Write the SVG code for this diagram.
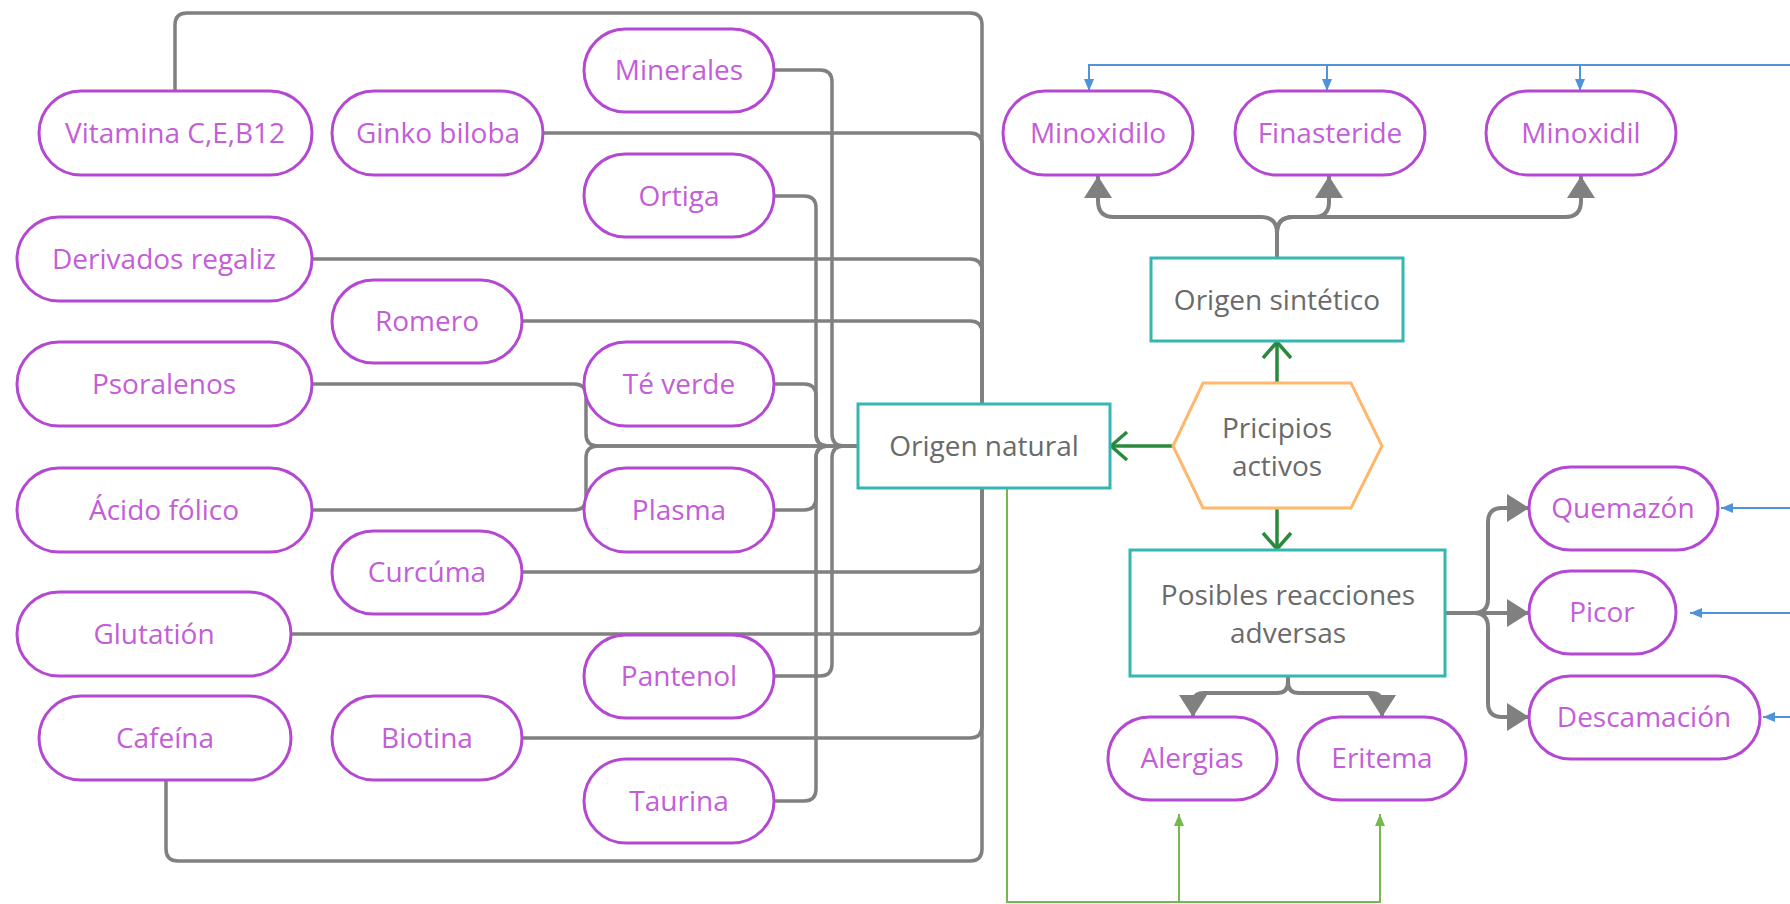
<svg xmlns="http://www.w3.org/2000/svg" width="1790" height="904" viewBox="0 0 1790 904">
<style>
.pill{fill:#fff;stroke:#b548d2;stroke-width:3}
.box{fill:#fff;stroke:#36b6b2;stroke-width:3}
.hex{fill:#fff;stroke:#ffb86b;stroke-width:3}
.pt{font-family:"Open Sans","Noto Sans",sans-serif;font-size:28px;fill:#c45dd8;text-anchor:middle}
.gt{font-family:"Open Sans","Noto Sans",sans-serif;font-size:28px;fill:#6a6a6a;text-anchor:middle}
.g{fill:none;stroke:#808080;stroke-width:3.5}
.ga{fill:none;stroke:#808080;stroke-width:4;marker-end:url(#triG)}
.dg{fill:none;stroke:#2a8a3c;stroke-width:3.5;marker-end:url(#chev)}
.lg{fill:none;stroke:#74b84e;stroke-width:2}
.bl{fill:none;stroke:#4f94d8;stroke-width:2}
</style>
<defs>
<marker id="triG" viewBox="0 0 22 28" refX="22" refY="14" markerWidth="22" markerHeight="28" markerUnits="userSpaceOnUse" orient="auto"><path d="M0,0 L22,14 L0,28 z" fill="#808080"/></marker>
<marker id="chev" viewBox="0 0 20 32" refX="18" refY="16" markerWidth="20" markerHeight="32" markerUnits="userSpaceOnUse" orient="auto"><path d="M2,2 L18,16 L2,30" fill="none" stroke="#2a8a3c" stroke-width="3.5"/></marker>
<marker id="triL" viewBox="0 0 12 10" refX="12" refY="5" markerWidth="12" markerHeight="10" markerUnits="userSpaceOnUse" orient="auto"><path d="M0,0 L12,5 L0,10 z" fill="#74b84e"/></marker>
<marker id="triB" viewBox="0 0 12 10" refX="12" refY="5" markerWidth="12" markerHeight="10" markerUnits="userSpaceOnUse" orient="auto"><path d="M0,0 L12,5 L0,10 z" fill="#4f94d8"/></marker>
</defs>
<rect width="1790" height="904" fill="#fff"/>
<g id="connectors">
<path class="g" d="M175,91 V25 Q175,13 187,13 H970 Q982,13 982,25 V404"/>
<path class="g" d="M543,133 H970 Q982,133 982,145 V404"/>
<path class="g" d="M312,259 H970 Q982,259 982,271 V404"/>
<path class="g" d="M522,321 H970 Q982,321 982,333 V404"/>
<path class="g" d="M522,572 H970 Q982,572 982,560 V488"/>
<path class="g" d="M291,634 H970 Q982,634 982,622 V488"/>
<path class="g" d="M522,738 H970 Q982,738 982,726 V488"/>
<path class="g" d="M166,780 V849 Q166,861 178,861 H970 Q982,861 982,849 V488"/>
<path class="g" d="M312,384 H574 Q586,384 586,396 V434 Q586,446 598,446 H858"/>
<path class="g" d="M312,510 H574 Q586,510 586,498 V458 Q586,446 598,446 H858"/>
<path class="g" d="M774,384 H804 Q816,384 816,396 V434 Q816,446 828,446 H858"/>
<path class="g" d="M774,510 H804 Q816,510 816,498 V458 Q816,446 828,446 H858"/>
<path class="g" d="M774,196 H804 Q816,196 816,208 V434 Q816,446 828,446 H858"/>
<path class="g" d="M774,801 H804 Q816,801 816,789 V458 Q816,446 828,446 H858"/>
<path class="g" d="M774,70 H820 Q832,70 832,82 V434 Q832,446 844,446 H858"/>
<path class="g" d="M774,676 H820 Q832,676 832,664 V458 Q832,446 844,446 H858"/>
<path class="ga" d="M1277,258 V233 Q1277,217 1261,217 H1114 Q1098,217 1098,201 V176"/>
<path class="ga" d="M1277,258 V233 Q1277,217 1293,217 H1314 Q1329,217 1329,202 V176"/>
<path class="ga" d="M1277,258 V233 Q1277,217 1293,217 H1565 Q1581,217 1581,201 V176"/>
<path class="ga" d="M1445,613 H1474 Q1488,613 1488,599 V522 Q1488,508 1502,508 H1529"/>
<path class="ga" d="M1445,613 H1529"/>
<path class="ga" d="M1445,613 H1474 Q1488,613 1488,627 V703 Q1488,717 1502,717 H1529"/>
<path class="ga" d="M1288,676 V682 Q1288,693 1277,693 H1204 Q1193,693 1193,704 V717"/>
<path class="ga" d="M1288,676 V682 Q1288,693 1299,693 H1371 Q1382,693 1382,704 V717"/>
<path class="dg" d="M1173,446 H1111"/>
<path class="dg" d="M1277,383 V342"/>
<path class="dg" d="M1277,508 V549"/>
<path class="lg" d="M1007,488 V902 H1380 V814" marker-end="url(#triL)"/>
<path class="lg" d="M1179,902 V814" marker-end="url(#triL)"/>
<path class="bl" d="M1790,65 H1089 V91" marker-end="url(#triB)"/>
<path class="bl" d="M1327,65 V91" marker-end="url(#triB)"/>
<path class="bl" d="M1580,65 V91" marker-end="url(#triB)"/>
<path class="bl" d="M1790,508 H1721" marker-end="url(#triB)"/>
<path class="bl" d="M1790,613 H1690" marker-end="url(#triB)"/>
<path class="bl" d="M1790,717 H1763" marker-end="url(#triB)"/>
</g>
<g id="vitamina"><rect class="pill" x="39" y="91" width="273" height="84" rx="42"/><text class="pt" x="175" y="143">Vitamina C,E,B12</text></g>
<g id="ginko"><rect class="pill" x="332" y="91" width="211" height="84" rx="42"/><text class="pt" x="438" y="143">Ginko biloba</text></g>
<g id="minerales"><rect class="pill" x="584" y="29" width="190" height="83" rx="41.5"/><text class="pt" x="679" y="80">Minerales</text></g>
<g id="ortiga"><rect class="pill" x="584" y="154" width="190" height="83" rx="41.5"/><text class="pt" x="679" y="206">Ortiga</text></g>
<g id="regaliz"><rect class="pill" x="17" y="217" width="295" height="84" rx="42"/><text class="pt" x="164" y="269">Derivados regaliz</text></g>
<g id="romero"><rect class="pill" x="332" y="280" width="190" height="83" rx="41.5"/><text class="pt" x="427" y="331">Romero</text></g>
<g id="psoralenos"><rect class="pill" x="17" y="342" width="295" height="84" rx="42"/><text class="pt" x="164" y="394">Psoralenos</text></g>
<g id="teverde"><rect class="pill" x="584" y="342" width="190" height="84" rx="42"/><text class="pt" x="679" y="394">Té verde</text></g>
<g id="acido"><rect class="pill" x="17" y="468" width="295" height="84" rx="42"/><text class="pt" x="164" y="520">Ácido fólico</text></g>
<g id="plasma"><rect class="pill" x="584" y="468" width="190" height="84" rx="42"/><text class="pt" x="679" y="520">Plasma</text></g>
<g id="curcuma"><rect class="pill" x="332" y="531" width="190" height="83" rx="41.5"/><text class="pt" x="427" y="582">Curcúma</text></g>
<g id="glutation"><rect class="pill" x="17" y="592" width="274" height="84" rx="42"/><text class="pt" x="154" y="644">Glutatión</text></g>
<g id="pantenol"><rect class="pill" x="584" y="635" width="190" height="83" rx="41.5"/><text class="pt" x="679" y="686">Pantenol</text></g>
<g id="cafeina"><rect class="pill" x="39" y="696" width="252" height="84" rx="42"/><text class="pt" x="165" y="748">Cafeína</text></g>
<g id="biotina"><rect class="pill" x="332" y="696" width="190" height="84" rx="42"/><text class="pt" x="427" y="748">Biotina</text></g>
<g id="taurina"><rect class="pill" x="584" y="759" width="190" height="84" rx="42"/><text class="pt" x="679" y="811">Taurina</text></g>
<g id="origen-natural"><rect class="box" x="858" y="404" width="252" height="84"/><text class="gt" x="984" y="456">Origen natural</text></g>
<g id="origen-sintetico"><rect class="box" x="1151" y="258" width="252" height="83"/><text class="gt" x="1277" y="310">Origen sintético</text></g>
<g id="principios"><polygon class="hex" points="1173,446 1203,383 1351,383 1382,446 1351,508 1203,508"/><text class="gt" x="1277" y="438">Pricipios</text><text class="gt" x="1277" y="476">activos</text></g>
<g id="reacciones"><rect class="box" x="1130" y="550" width="315" height="126"/><text class="gt" x="1288" y="605">Posibles reacciones</text><text class="gt" x="1288" y="643">adversas</text></g>
<g id="minoxidilo"><rect class="pill" x="1003" y="91" width="190" height="84" rx="42"/><text class="pt" x="1098" y="143">Minoxidilo</text></g>
<g id="finasteride"><rect class="pill" x="1235" y="91" width="190" height="84" rx="42"/><text class="pt" x="1330" y="143">Finasteride</text></g>
<g id="minoxidil"><rect class="pill" x="1486" y="91" width="190" height="84" rx="42"/><text class="pt" x="1581" y="143">Minoxidil</text></g>
<g id="quemazon"><rect class="pill" x="1529" y="467" width="189" height="83" rx="41.5"/><text class="pt" x="1623" y="518">Quemazón</text></g>
<g id="picor"><rect class="pill" x="1529" y="571" width="147" height="83" rx="41.5"/><text class="pt" x="1602" y="622">Picor</text></g>
<g id="descamacion"><rect class="pill" x="1529" y="676" width="231" height="83" rx="41.5"/><text class="pt" x="1644" y="727">Descamación</text></g>
<g id="alergias"><rect class="pill" x="1108" y="717" width="169" height="83" rx="41.5"/><text class="pt" x="1192" y="768">Alergias</text></g>
<g id="eritema"><rect class="pill" x="1298" y="717" width="168" height="83" rx="41.5"/><text class="pt" x="1382" y="768">Eritema</text></g>
</svg>
